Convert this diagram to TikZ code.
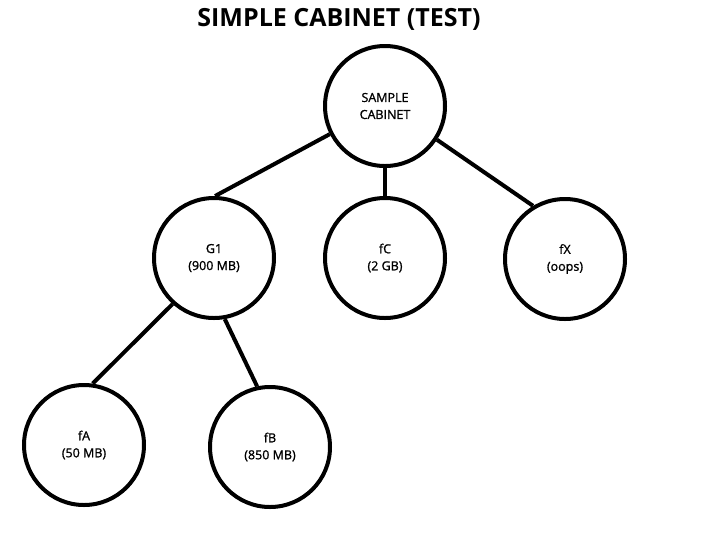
\documentclass[tikz,border=0pt]{standalone}
\usepackage{fontspec}
\setmainfont{Open Sans}
\newfontfamily\nodefont[FakeBold=1.2]{Open Sans}
\begin{document}
\begin{tikzpicture}[x=1pt,y=-1pt,
  tnode/.style={circle,draw=black,line width=4pt,minimum size=120pt,inner sep=0pt,
    align=center,font=\nodefont\fontsize{12.5}{17}\selectfont},
  conn/.style={line width=4pt}]
\useasboundingbox (0,0) rectangle (712,558);
\node[font=\bfseries\fontsize{25}{29}\selectfont] (title) at (339,19) {SIMPLE CABINET (TEST)};
\node[tnode] (root) at (385,106) {SAMPLE\\CABINET};
\node[tnode] (g1) at (214,258) {G1\\(900 MB)};
\node[tnode] (fc) at (385,258) {fC\\(2 GB)};
\node[tnode] (fx) at (565,259) {fX\\(oops)};
\node[tnode] (fa) at (84,445) {fA\\(50 MB)};
\node[tnode] (fb) at (270,447) {fB\\(850 MB)};
\draw[conn] (root.207) -- (g1.89);
\draw[conn] (root.south) -- (fc.north);
\draw[conn] (root.-33) -- (fx.121);
\draw[conn] (g1.-132) -- (fa.82);
\draw[conn] (g1.-80) -- (fb.102);
\end{tikzpicture}
\end{document}
